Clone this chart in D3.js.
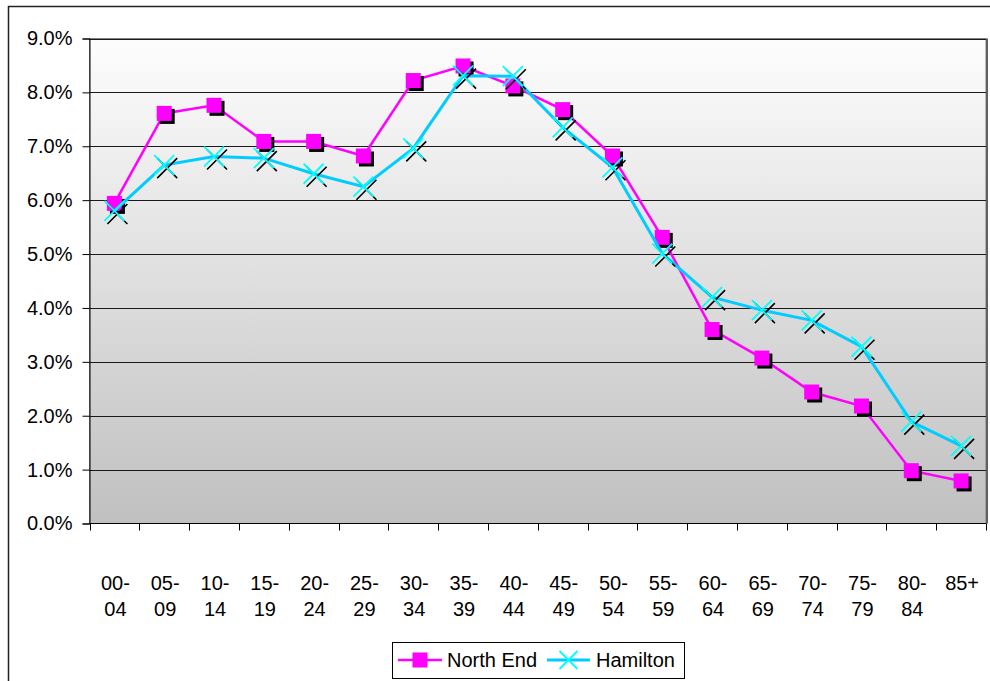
<!DOCTYPE html>
<html>
<head>
<meta charset="utf-8">
<script src="https://cdn.jsdelivr.net/npm/d3@7"></script>
<style>
  html, body { margin: 0; padding: 0; background: #fff; }
  svg { display: block; font-family: "Liberation Sans", Arial, sans-serif; }
</style>
</head>
<body>
<svg id="chart" width="990" height="681"></svg>
<script>
// Age groups (two-line labels split on the dash)
const ageGroups = ["00-04","05-09","10-14","15-19","20-24","25-29","30-34","35-39","40-44",
                   "45-49","50-54","55-59","60-64","65-69","70-74","75-79","80-84","85+"];
// Share of population in each age group (%)
const northEnd = [5.94, 7.61, 7.76, 7.09, 7.09, 6.82, 8.22, 8.49, 8.12, 7.68, 6.82, 5.31, 3.60, 3.07, 2.44, 2.18, 0.98, 0.79];
const hamilton = [5.80, 6.65, 6.81, 6.78, 6.49, 6.25, 6.96, 8.31, 8.30, 7.35, 6.61, 5.01, 4.20, 3.96, 3.77, 3.28, 1.89, 1.44];
const yTicks = [0, 1, 2, 3, 4, 5, 6, 7, 8, 9];
const seriesNames = ["North End", "Hamilton"];

const FONT = 20;
const svg = d3.select("#chart");
const plot = { left: 89.5, top: 38.5, right: 986, bottom: 523.5 };

const x = d3.scaleBand().domain(ageGroups).range([plot.left, plot.right]);
const y = d3.scaleLinear().domain([0, 9]).range([plot.bottom, plot.top]);

// Outer chart frame
svg.append("rect")
  .attr("x", 8.5).attr("y", 6.5).attr("width", 1000).attr("height", 700)
  .attr("fill", "#fff").attr("stroke", "#222").attr("stroke-width", 1.5);

// Plot area gradient
const defs = svg.append("defs");
const grad = defs.append("linearGradient").attr("id", "bg")
  .attr("x1", 0).attr("y1", 0).attr("x2", 0).attr("y2", 1);
grad.append("stop").attr("offset", "0%").attr("stop-color", "#fdfdfd");
grad.append("stop").attr("offset", "100%").attr("stop-color", "#c0c0c0");

svg.append("rect")
  .attr("x", plot.left).attr("y", plot.top)
  .attr("width", plot.right - plot.left).attr("height", plot.bottom - plot.top)
  .attr("fill", "url(#bg)").attr("stroke", "#808080").attr("stroke-width", 1);
// right edge shadow
svg.append("line")
  .attr("x1", plot.right + 1).attr("x2", plot.right + 1)
  .attr("y1", plot.top).attr("y2", plot.bottom)
  .attr("stroke", "#606060").attr("stroke-width", 2);

// Horizontal gridlines
svg.append("g").selectAll("line").data(yTicks.filter(d => d > 0)).join("line")
  .attr("x1", plot.left).attr("x2", plot.right)
  .attr("y1", d => Math.round(y(d)) + 0.5).attr("y2", d => Math.round(y(d)) + 0.5)
  .attr("stroke", "#1a1a1a").attr("stroke-width", 1);

// Y axis
const yAxis = svg.append("g")
  .attr("transform", `translate(${plot.left},0)`)
  .call(d3.axisLeft(y).tickValues(yTicks).tickSize(7).tickPadding(10)
    .tickFormat(d => d.toFixed(1) + "%"));
yAxis.select(".domain").attr("stroke", "#000");
yAxis.selectAll(".tick line").attr("stroke", "#000");
yAxis.selectAll("text").attr("font-size", FONT).attr("fill", "#000")
  .attr("font-family", "Liberation Sans, Arial, sans-serif");

// X axis: ticks at band boundaries
const bounds = ageGroups.map(d => x(d)).concat([plot.right]);
svg.append("line")
  .attr("x1", plot.left).attr("x2", plot.right)
  .attr("y1", plot.bottom).attr("y2", plot.bottom)
  .attr("stroke", "#000");
svg.append("g").selectAll("line").data(bounds).join("line")
  .attr("x1", d => Math.round(d) + 0.5).attr("x2", d => Math.round(d) + 0.5)
  .attr("y1", plot.bottom).attr("y2", plot.bottom + 7)
  .attr("stroke", "#000");

const xLabels = svg.append("g").selectAll("text").data(ageGroups).join("text")
  .attr("x", d => x(d) + x.bandwidth() / 2 + 1)
  .attr("text-anchor", "middle")
  .attr("font-size", FONT)
  .attr("fill", "#000");
xLabels.each(function(d) {
  const t = d3.select(this);
  const parts = d.includes("-") ? [d.split("-")[0] + "-", d.split("-")[1]] : [d];
  parts.forEach((p, i) => {
    t.append("tspan")
      .attr("x", x(d) + x.bandwidth() / 2 + 1)
      .attr("y", 590 + i * 26)
      .text(p);
  });
});

const cx = d => x(d) + x.bandwidth() / 2;
const line = d3.line().x((d, i) => cx(ageGroups[i])).y(d => y(d));

// Marker helpers
function drawSquares(g, vals, s) {
  g.selectAll(null).data(vals).join("rect")
    .attr("x", (d, i) => cx(ageGroups[i]) - s / 2 + 3)
    .attr("y", d => y(d) - s / 2 + 3)
    .attr("width", s).attr("height", s).attr("fill", "#000");
  g.selectAll(null).data(vals).join("rect")
    .attr("x", (d, i) => cx(ageGroups[i]) - s / 2)
    .attr("y", d => y(d) - s / 2)
    .attr("width", s).attr("height", s).attr("fill", "#ff00ff");
}
function crossPath(px, py, r) {
  return `M${px - r},${py - r}L${px + r},${py + r}M${px - r},${py + r}L${px + r},${py - r}`;
}
function drawCrosses(g, vals, r) {
  g.selectAll(null).data(vals).join("path")
    .attr("d", (d, i) => crossPath(cx(ageGroups[i]) + 3, y(d) + 3, r))
    .attr("stroke", "#000").attr("stroke-width", 1.6).attr("fill", "none");
  g.selectAll(null).data(vals).join("path")
    .attr("d", (d, i) => crossPath(cx(ageGroups[i]), y(d), r))
    .attr("stroke", "#00ffff").attr("stroke-width", 1.8).attr("fill", "none");
}

// North End series
svg.append("path").datum(northEnd).attr("d", line)
  .attr("fill", "none").attr("stroke", "#ff00ff").attr("stroke-width", 2.5);
drawSquares(svg.append("g"), northEnd, 15);

// Hamilton series
svg.append("path").datum(hamilton).attr("d", line)
  .attr("fill", "none").attr("stroke", "#00ccff").attr("stroke-width", 3);
drawCrosses(svg.append("g"), hamilton, 10);

// Legend
const lg = svg.append("g");
lg.append("rect").attr("x", 392.5).attr("y", 642.5).attr("width", 292).attr("height", 36)
  .attr("fill", "#fff").attr("stroke", "#000").attr("stroke-width", 1);
lg.append("line").attr("x1", 398).attr("x2", 442).attr("y1", 660).attr("y2", 660)
  .attr("stroke", "#ff00ff").attr("stroke-width", 2.5);
lg.append("rect").attr("x", 412.5).attr("y", 652.5).attr("width", 15).attr("height", 15)
  .attr("fill", "#ff00ff");
lg.append("text").attr("x", 447).attr("y", 667).attr("font-size", FONT).text(seriesNames[0]);
lg.append("line").attr("x1", 547).attr("x2", 590).attr("y1", 660).attr("y2", 660)
  .attr("stroke", "#00ccff").attr("stroke-width", 3);
lg.append("path").attr("d", crossPath(568.5, 660, 9))
  .attr("stroke", "#00ffff").attr("stroke-width", 1.8).attr("fill", "none");
lg.append("text").attr("x", 596).attr("y", 667).attr("font-size", FONT).text(seriesNames[1]);
</script>
</body>
</html>
